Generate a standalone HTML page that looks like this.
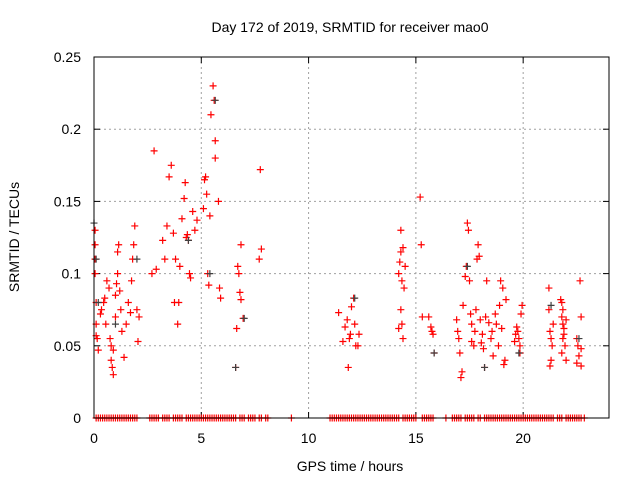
<!DOCTYPE html>
<html><head><meta charset="utf-8"><style>
html,body{margin:0;padding:0;background:#fff;}
svg{display:block;font-family:"Liberation Sans",sans-serif;}
</style></head><body>
<svg id="chart" width="640" height="480" viewBox="0 0 640 480" xmlns="http://www.w3.org/2000/svg">
<rect width="640" height="480" fill="#fff"/>
<text x="350" y="32" font-size="14" text-anchor="middle">Day 172 of 2019, SRMTID for receiver mao0</text>
<text x="350" y="471" font-size="14" text-anchor="middle">GPS time / hours</text>
<text transform="translate(19,237) rotate(-90)" font-size="14" text-anchor="middle">SRMTID / TECUs</text>
<g id="grid"></g><g id="axes"></g><g id="marks"></g>
<rect x="94" y="57" width="515" height="361" fill="none" stroke="#000" stroke-width="1"/>
</svg>
<script>
const xTicks=[0,5,10,15,20];
const yTicks=[0,0.05,0.1,0.15,0.2,0.25];
const yTickLabels=["0","0.05","0.1","0.15","0.2","0.25"];
const zeroTimes=[0.1,0.2,0.3,0.4,0.5,0.6,0.7,0.8,0.9,1.0,1.1,1.2,1.3,1.4,1.5,1.6,1.7,1.8,1.9,2.0,
2.6,2.7,2.8,2.9,3.0,3.2,3.3,3.4,3.5,3.7,3.8,3.9,4.0,4.1,4.3,4.4,4.5,4.6,4.7,4.8,4.9,5.0,5.1,5.2,5.3,5.4,5.5,5.6,5.7,5.8,5.9,6.0,6.1,6.2,6.3,6.4,6.5,6.6,6.8,6.9,7.0,7.2,7.3,7.4,7.5,7.7,7.8,8.0,8.1,
9.2,
11.0,11.1,11.2,11.3,11.4,11.5,11.6,11.7,11.8,11.9,12.0,12.1,12.2,12.3,12.4,12.5,12.6,12.7,12.8,12.9,13.0,13.1,13.2,13.3,13.4,13.5,13.6,13.7,13.8,13.9,14.0,14.1,14.2,
14.4,14.5,14.6,14.7,14.8,14.9,15.0,15.3,15.4,15.5,15.6,15.7,15.8,
16.4,16.7,16.8,16.9,17.0,17.1,17.3,17.4,17.5,17.6,17.7,17.9,18.0,18.2,18.3,18.4,18.5,18.6,18.7,18.8,18.9,19.0,19.1,19.2,19.3,19.4,19.5,19.6,19.7,19.8,
19.9,20.0,20.1,20.2,20.3,20.4,20.5,20.6,20.7,20.8,20.9,21.0,21.1,21.2,21.3,21.4,21.6,21.7,21.8,22.0,22.1,22.2,22.3,22.4,22.5,22.6,22.7,22.85];
const redTimes=[0.05,0.05,0.05,0.05,0.1,0.1,0.1,0.15,0.2,0.3,0.35,0.45,0.5,0.55,0.6,0.7,0.75,0.8,0.8,0.85,0.9,0.9,1.0,1.0,1.05,1.1,1.1,1.15,1.2,1.25,1.3,1.4,1.5,1.6,1.7,1.75,1.8,1.85,1.9,2.0,2.05,2.1,
2.7,2.8,2.9,3.2,3.3,3.4,3.5,3.6,3.7,3.75,3.8,3.9,3.95,4.0,4.1,4.2,4.25,4.3,4.35,4.4,4.45,4.5,4.6,4.7,4.8,5.1,5.15,5.2,5.25,5.3,5.35,5.4,5.45,5.55,5.6,5.65,5.65,5.8,5.85,5.9,
6.6,6.65,6.7,6.75,6.8,6.85,6.85,6.95,7.7,7.75,7.8,
11.4,11.7,11.8,11.85,11.9,11.95,12.0,12.1,12.15,12.2,12.3,12.35,11.6,
14.2,14.25,14.3,14.3,14.35,14.4,14.45,14.5,14.3,14.35,14.4,14.2,15.2,15.25,15.3,15.7,15.75,15.8,15.85,15.6,
16.9,16.95,17.0,17.05,17.1,17.15,17.2,17.3,17.35,17.4,17.45,17.5,17.55,17.6,17.7,17.75,17.8,17.85,17.9,17.95,18.0,18.1,18.15,18.2,18.25,18.3,18.4,18.5,18.55,18.6,18.7,18.75,18.85,18.9,18.95,19.0,19.05,19.1,19.15,19.2,19.6,19.65,19.7,19.75,19.8,19.85,19.85,19.9,19.95,17.6,18.05,
21.2,21.2,21.25,21.3,21.3,21.25,21.35,21.4,21.75,21.8,21.85,21.8,21.85,21.9,21.9,21.85,21.95,21.8,22.0,22.0,22.5,22.55,22.6,22.5,22.7,22.7,22.65,22.7];
const redValues=[0.13,0.12,0.11,0.1,0.08,0.065,0.057,0.055,0.047,0.072,0.075,0.08,0.083,0.065,0.095,0.09,0.055,0.05,0.04,0.035,0.03,0.047,0.07,0.085,0.093,0.1,0.115,0.12,0.088,0.075,0.06,0.042,0.065,0.08,0.073,0.095,0.11,0.12,0.133,0.075,0.053,0.07,
0.1,0.185,0.103,0.123,0.11,0.133,0.167,0.175,0.128,0.08,0.11,0.065,0.08,0.105,0.138,0.152,0.163,0.125,0.127,0.123,0.1,0.097,0.143,0.13,0.137,0.145,0.165,0.167,0.155,0.1,0.092,0.14,0.21,0.23,0.22,0.192,0.18,0.15,0.09,0.083,
0.035,0.062,0.105,0.1,0.087,0.082,0.12,0.069,0.11,0.172,0.117,
0.073,0.063,0.068,0.035,0.055,0.058,0.077,0.083,0.065,0.05,0.05,0.058,0.053,
0.1,0.108,0.115,0.13,0.095,0.118,0.09,0.105,0.075,0.065,0.055,0.062,0.153,0.12,0.07,0.063,0.06,0.058,0.045,0.07,
0.068,0.06,0.055,0.045,0.028,0.032,0.078,0.098,0.105,0.135,0.13,0.095,0.072,0.065,0.05,0.06,0.075,0.11,0.12,0.112,0.068,0.058,0.048,0.035,0.07,0.095,0.066,0.055,0.06,0.043,0.072,0.065,0.05,0.078,0.095,0.062,0.09,0.037,0.04,0.082,0.053,0.058,0.063,0.06,0.055,0.05,0.045,0.072,0.078,0.053,0.052,
0.09,0.075,0.06,0.055,0.04,0.036,0.05,0.065,0.082,0.08,0.075,0.07,0.065,0.062,0.058,0.055,0.05,0.045,0.04,0.068,0.055,0.05,0.043,0.038,0.036,0.07,0.095,0.048];
const grayTimes=[0,0.1,0.2,1.0,2.0,4.4,5.4,5.65,6.6,7.0,12.15,15.85,17.4,18.2,19.8,21.3,22.6];
const grayValues=[0.135,0.11,0.08,0.065,0.11,0.123,0.1,0.22,0.035,0.069,0.083,0.045,0.105,0.035,0.045,0.078,0.055];

const X0=94,X1=609,Y0=418,Y1=57,XMAX=24,YMAX=0.25;
const xs=t=>X0+(X1-X0)*t/XMAX;
const ys=v=>Y0-(Y0-Y1)*v/YMAX;
const NS="http://www.w3.org/2000/svg";
function mk(tag,attrs,parent){const e=document.createElementNS(NS,tag);for(const k in attrs)e.setAttribute(k,attrs[k]);parent.appendChild(e);return e;}
const grid=document.getElementById('grid'),axes=document.getElementById('axes'),marks=document.getElementById('marks');
xTicks.forEach(t=>{
  const x=xs(t);
  if(t>0){const g=mk('line',{x1:x,x2:x,y1:Y1,y2:Y0,stroke:'#a0a0a0','stroke-dasharray':'2,3'},grid);
  
  }
  mk('line',{x1:x,x2:x,y1:Y0,y2:Y0-6,stroke:'#000'},axes);
  mk('line',{x1:x,x2:x,y1:Y1,y2:Y1+6,stroke:'#000'},axes);
  const l=mk('text',{x:x,y:443,'font-size':14,'text-anchor':'middle'},axes);l.textContent=t;
  
  
});
yTicks.forEach((v,i)=>{
  const y=ys(v);
  if(v>0&&v<YMAX){const g=mk('line',{x1:X0,x2:X1,y1:y,y2:y,stroke:'#a0a0a0','stroke-dasharray':'2,3'},grid);
  
  }
  mk('line',{x1:X0,x2:X0+6,y1:y,y2:y,stroke:'#000'},axes);
  mk('line',{x1:X1,x2:X1-6,y1:y,y2:y,stroke:'#000'},axes);
  const l=mk('text',{x:81,y:y+5,'font-size':14,'text-anchor':'end'},axes);l.textContent=yTickLabels[i];
  
  
});
function cross(t,v,color,name){
  const x=xs(t),y=ys(v);
  const p=mk('path',{d:`M${x-3.5},${y}H${x+3.5}M${x},${y-3.5}V${y+3.5}`,stroke:color,'stroke-width':1.2,fill:'none'},marks);
  
  
}
zeroTimes.forEach(t=>cross(t,0,'#ff0000','zero-point'));
redTimes.forEach((t,i)=>cross(t,redValues[i],'#ff0000','srmtid-point'));
grayTimes.forEach((t,i)=>cross(t,grayValues[i],'#404040','srmtid-gray-point'));
</script>
</body></html>
